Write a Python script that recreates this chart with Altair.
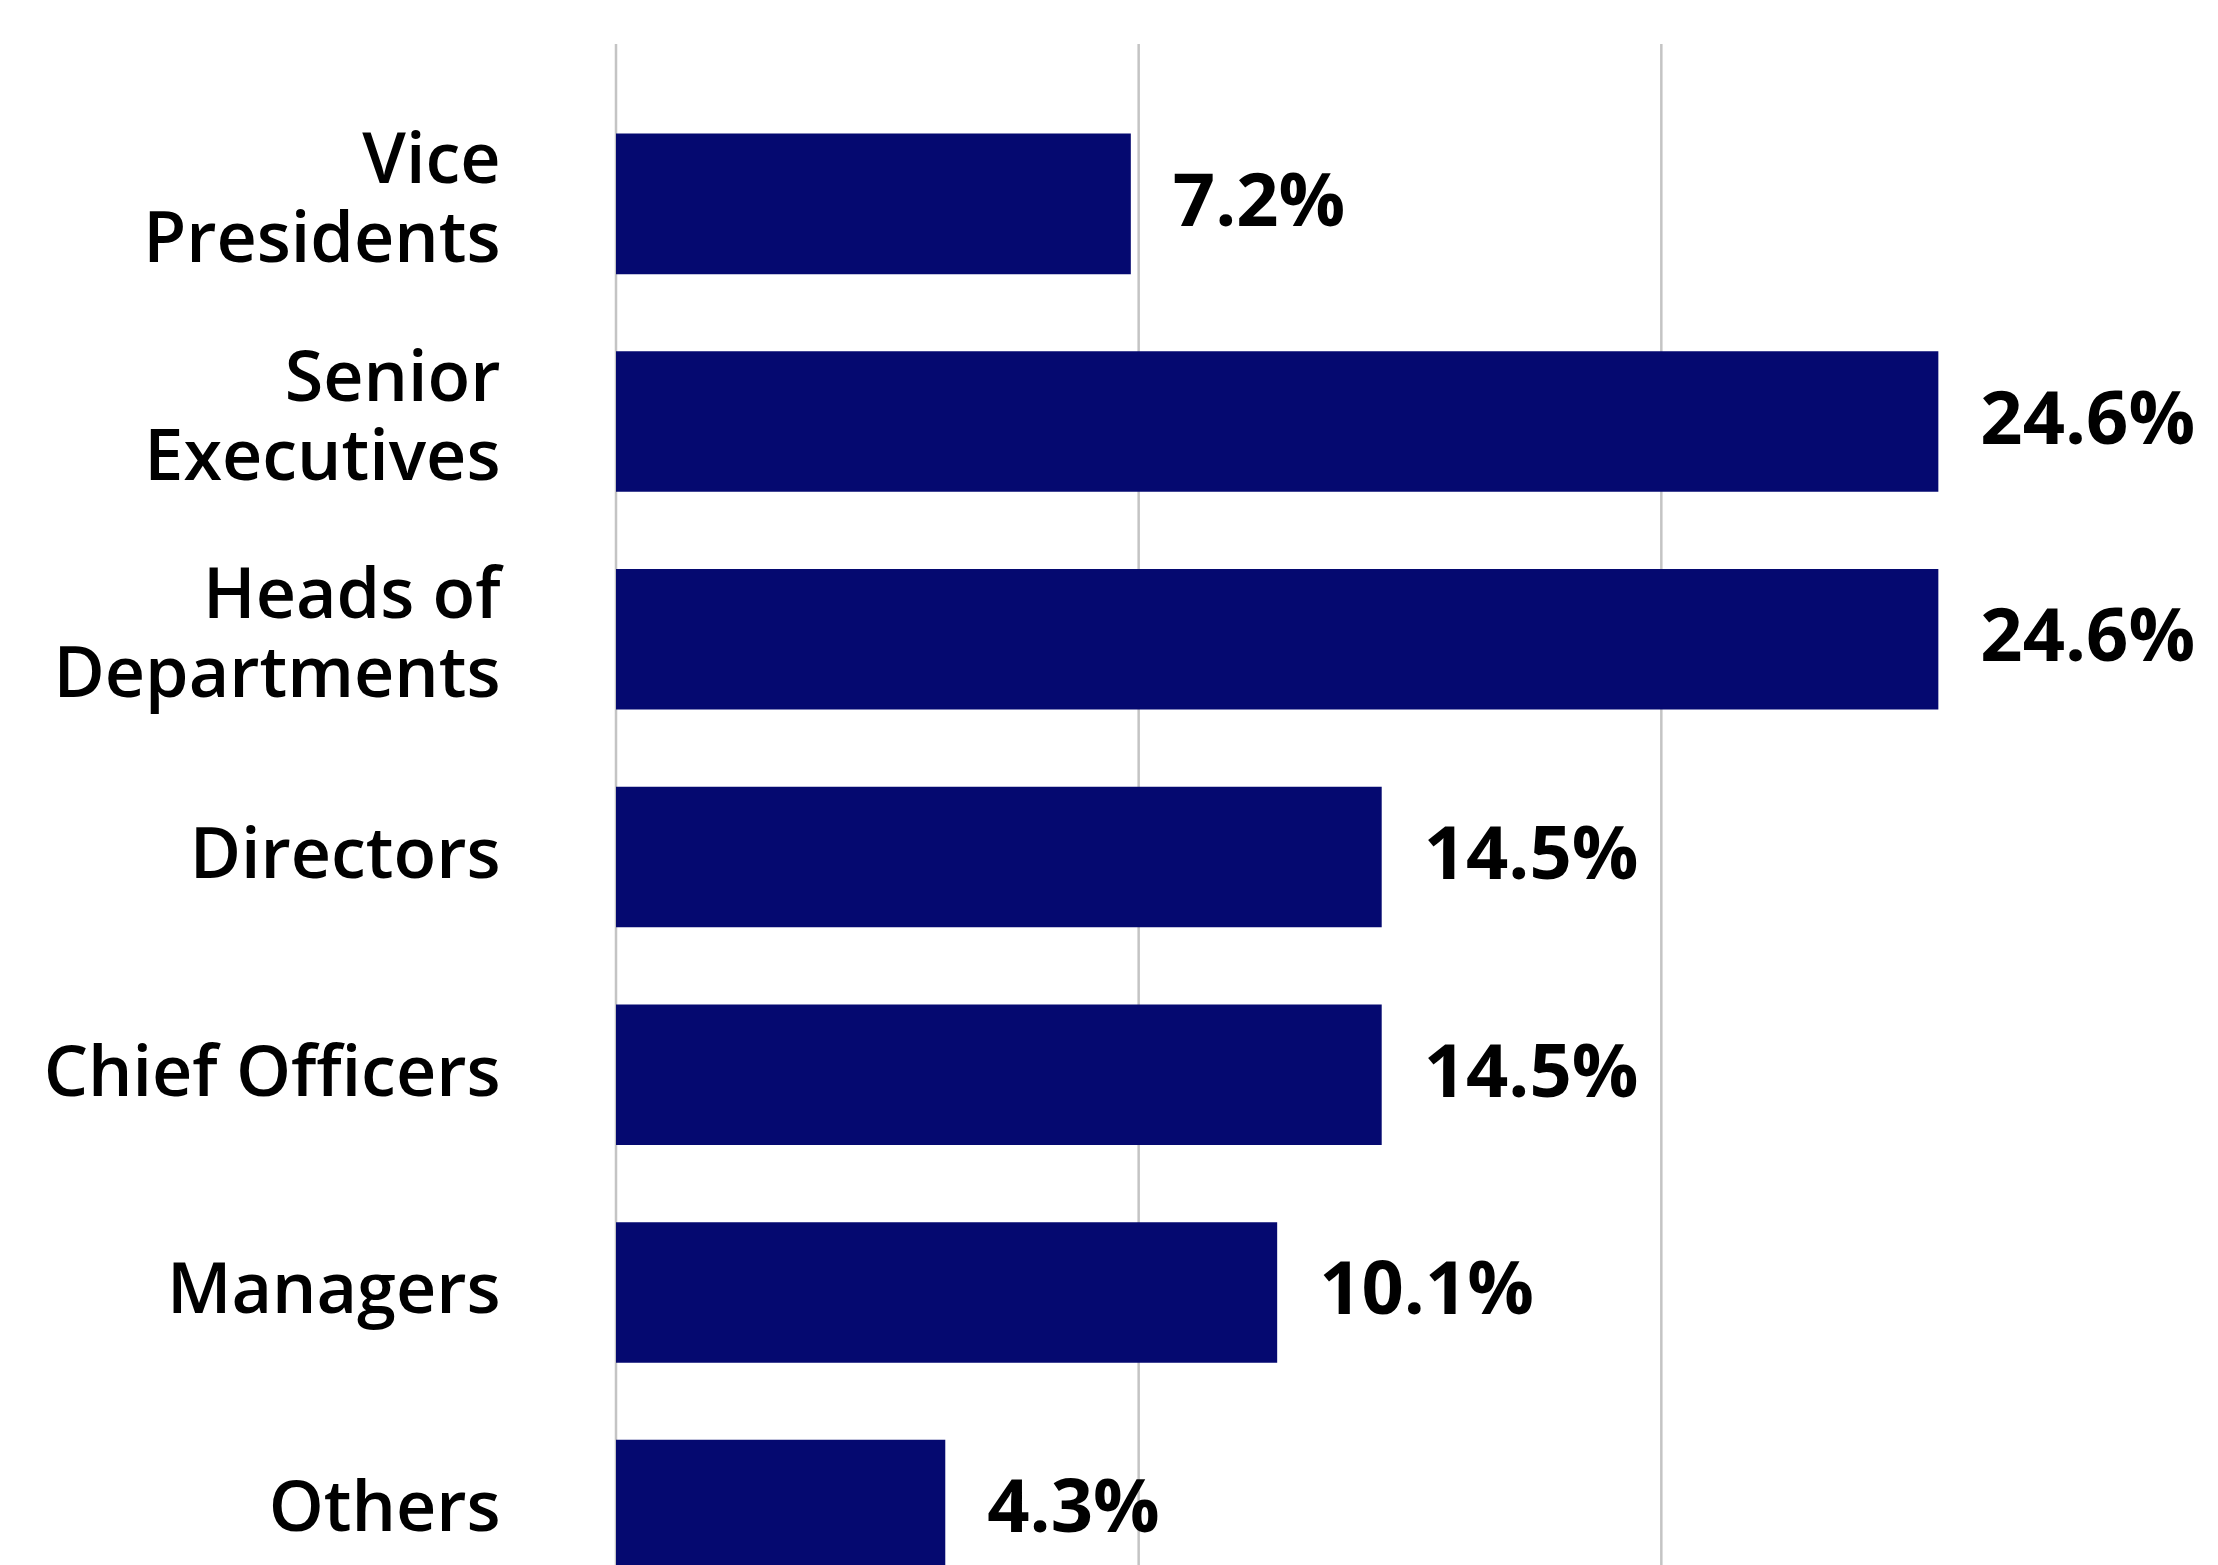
import altair as alt
import pandas as pd

categories = ["Vice|Presidents", "Senior|Executives", "Heads of|Departments",
              "Directors", "Chief Officers", "Managers", "Others"]
pct_labels = [7.2, 24.6, 24.6, 14.5, 14.5, 10.1, 4.3]
# bar lengths as drawn, in axis units (gridlines at 0, 10, 20)
bar_length = [9.85, 25.3, 25.3, 14.65, 14.65, 12.65, 6.3]
grid_values = [0, 10, 20]

df = pd.DataFrame({"cat": categories, "pct": pct_labels, "len": bar_length})
grid_df = pd.DataFrame({"g": grid_values})

NAVY = "#050970"
x_scale = alt.Scale(domain=[0, 30], nice=False, zero=True)

y_enc = alt.Y(
    "cat:N",
    sort=categories,
    scale=alt.Scale(paddingInner=0.354, paddingOuter=0.411, range=[0, 1626]),
    axis=alt.Axis(
        title=None, ticks=False, domain=False, grid=False, labelPadding=116,
        labelFont="Open Sans", labelFontSize=70, labelFontWeight=600,
        labelColor="#000000", labelLineHeight=79, labelLimit=1000,
        labelExpr="split(datum.label, '|')", minExtent=600, maxExtent=600,
        labelOffset=alt.condition("indexof(datum.value, '|') >= 0",
                                  alt.value(-42), alt.value(0)),
    ),
)

grid = alt.Chart(grid_df).mark_rule(color="#c4c4c4", strokeWidth=2.5).encode(
    x=alt.X("g:Q", scale=x_scale, axis=None)
)

bars = alt.Chart(df).mark_bar(color=NAVY, clip=True).encode(
    x=alt.X("len:Q", scale=x_scale, axis=None), y=y_enc
)

text = alt.Chart(df).transform_calculate(
    lbl="format(datum.pct, '.1f') + '%'"
).mark_text(
    align="left", baseline="middle", dx=42, font="Open Sans",
    fontSize=74, fontWeight="bold", color="#000000",
).encode(x=alt.X("len:Q", scale=x_scale, axis=None),
         y=alt.Y("cat:N", sort=categories), text="lbl:N")

chart = (grid + bars + text).properties(
    width=1568, height=1523, background="white",
    padding={"top": 34, "left": 8, "right": 5, "bottom": 0},
).configure_view(stroke=None, strokeWidth=0)

chart.save("out.html", embed_options={"renderer": "svg", "actions": False})
